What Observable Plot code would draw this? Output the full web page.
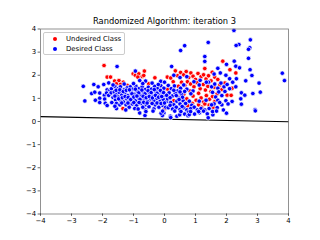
<!DOCTYPE html>
<html><head><meta charset="utf-8">
<script src="https://cdn.jsdelivr.net/npm/d3@7"></script>
<script src="https://cdn.jsdelivr.net/npm/@observablehq/plot@0.6"></script>
<style>
html,body{margin:0;padding:0;background:#fff;overflow:hidden}
#wrap{position:relative;width:320px;height:240px;font-family:"DejaVu Sans",sans-serif}
#legend{position:absolute;left:43px;top:32px;width:80px;height:21px;border:1px solid #ccc;border-radius:2px;background:rgba(255,255,255,.85);font-size:6.9px;color:#000}
#legend div{position:absolute;left:22px;white-space:nowrap;line-height:8px}
#legend i{position:absolute;left:-13.5px;top:1.7px;width:4.4px;height:4.4px;border-radius:50%}
</style></head><body>
<div id="wrap"></div>
<script>
const titleText = "Randomized Algorithm: iteration 3";
const classNames = ["Undesired Class", "Desired Class"];
const classColors = ["#ff0000", "#0000ff"];
const axisTicks = [-4,-3,-2,-1,0,1,2,3,4];
const boundaryX = [-4, 4];
const boundaryY = [0.21, -0.01];
const undesired = [[-1.95,2.42],[-1.85,1.92],[-1.74,1.92],[-1.61,1.75],[-1.47,1.77],[-1.33,1.7],[-1.55,1.63],[-1.42,1.6],[-1.2,1.56],[-1.01,2.06],[-0.94,2.0],[-0.83,2.06],[-0.72,1.95],[-0.65,2.18],[-0.67,1.99],[-0.86,1.92],[-0.31,1.89],[-0.51,1.63],[-1.34,0.56],[-1.12,0.76],[-1.33,1.0],[-0.45,0.86],[0.0,0.55],[0.09,1.92],[1.88,2.61],[2.11,2.24],[2.3,2.1],[1.3,2.29],[0.35,2.19],[1.54,2.13],[2.18,1.44],[2.02,1.14],[2.15,1.13],[0.43,1.08],[1.44,0.71],[1.57,0.62],[1.95,1.66],
[0.2,1.88],[0.28,1.72],[0.42,1.98],[0.52,2.12],[0.62,2.02],[0.7,2.16],[0.78,1.9],[0.85,2.1],[0.92,1.96],[1.0,1.82],[1.08,2.08],[1.18,1.94],[1.26,2.02],[1.34,1.84],[1.42,1.98],[1.5,1.76],[1.62,1.92],[1.72,1.82],[0.45,1.52],[0.55,1.7],[0.66,1.56],[0.74,1.72],[0.84,1.62],[0.95,1.5],[1.05,1.68],[1.15,1.42],[1.25,1.6],[1.32,1.36],[1.4,1.52],[1.5,1.3],[1.6,1.48],[1.7,1.2],[1.78,1.58],[1.85,1.38],[0.62,1.18],[0.72,0.98],[0.82,1.32],[0.92,1.1],[1.02,0.92],[1.1,1.22],[1.18,1.02],[1.26,0.84],[1.35,1.12],[1.45,0.96],[1.55,1.08],[1.62,0.86],[0.9,0.78],[1.1,0.72],[1.2,0.62],[1.3,0.76],[0.75,0.68],[-0.2,1.22],[-0.6,1.32],[-1.0,1.1],[0.1,1.4],[0.3,0.9]];
const desired = [[2.24,3.94],[2.77,3.53],[1.41,3.42],[2.4,3.33],[2.31,3.29],[0.65,3.28],[0.52,3.07],[2.75,3.19],[2.71,3.12],[1.3,2.81],[1.3,2.6],[2.71,2.73],[2.25,2.61],[2.3,2.39],[2.0,2.47],[0.23,2.38],[2.42,2.32],[2.76,2.24],[2.82,1.99],[3.8,2.09],[3.87,1.77],[2.62,1.76],[3.05,1.66],[2.32,1.85],[3.09,1.27],[2.85,1.21],[2.48,1.24],[2.59,1.14],[2.46,0.98],[2.48,0.75],[2.92,0.51],[2.18,0.87],
[-2.62,1.52],[-2.57,0.89],[-2.28,1.6],[-2.14,1.5],[-1.96,1.6],[-2.35,1.21],[-2.25,1.27],[-2.09,1.23],[-1.94,1.14],[-2.23,0.92],[-2.09,1.01],[-2.09,0.82],[-1.93,0.97],[-1.91,0.79],[-1.85,0.69],[-1.8,1.67],[-1.85,1.37],[-1.76,1.35],[-1.87,1.23],[-1.8,1.13],[-1.71,1.42],[-1.72,1.24],
[-1.53,2.38],[-0.94,2.18],[-0.8,1.77],[-0.61,1.75],[-1.55,0.56],[-0.8,0.37],[-0.61,0.5],[-0.63,0.26],[-0.34,0.55],[-0.02,0.37],[-0.07,0.26],[-1.6,1.52],[-1.5,1.42],[-1.42,1.5],[-1.3,1.38],[-1.2,1.46],[-1.1,1.5],[-1.02,1.4],[-0.92,1.52],[-0.82,1.42],[-0.72,1.5],[-0.62,1.38],[-0.52,1.48],[-0.42,1.4],[-0.32,1.52],[-0.22,1.42],[-0.12,1.55],[-0.02,1.44],
[-1.62,1.28],[-1.54,1.18],[-1.46,1.26],[-1.38,1.14],[-1.28,1.24],[-1.18,1.12],[-1.08,1.28],[-0.98,1.18],[-0.88,1.3],[-0.78,1.16],[-0.68,1.26],[-0.58,1.12],[-0.48,1.22],[-0.38,1.1],[-0.28,1.3],[-0.18,1.14],[-0.08,1.26],[0.02,1.12],
[-1.66,1.04],[-1.58,0.94],[-1.5,1.06],[-1.42,0.92],[-1.32,0.84],[-1.22,0.98],[-1.14,0.88],[-1.04,1.0],[-0.94,0.9],[-0.84,1.02],[-0.74,0.92],[-0.64,1.0],[-0.54,0.88],[-0.44,0.98],[-0.34,0.9],[-0.24,1.0],[-0.14,0.88],[-0.04,0.96],[0.06,0.86],
[-1.7,0.82],[-1.55,0.78],[-1.44,0.72],[-1.24,0.72],[-1.04,0.76],[-0.9,0.7],[-0.76,0.78],[-0.6,0.72],[-0.5,0.64],[-0.3,0.72],[-0.18,0.62],[-0.06,0.7],[0.04,0.62],[-1.14,0.62],[-0.96,0.56],[-0.7,0.62],[-1.66,1.58],[-1.3,1.62],[-1.0,1.64],[-0.7,1.64],[-0.4,1.66],[-0.12,1.74],[-0.2,1.6],[0.0,1.7],[-1.25,0.5],[-0.85,0.54],[-1.6,0.66],
[-1.56,1.35],[-1.44,1.37],[-1.33,1.3],[-1.23,1.35],[-1.13,1.37],[-1.05,1.2],[-0.94,1.4],[-0.83,1.24],[-0.73,1.36],[-0.63,1.2],[-0.53,1.33],[-0.43,1.25],[-0.33,1.38],[-0.24,1.22],[-0.13,1.34],[-0.03,1.25],
[-1.6,1.1],[-1.48,0.98],[-1.36,1.03],[-1.27,1.08],[-1.17,1.04],[-1.09,0.95],[-0.99,1.06],[-0.89,1.1],[-0.79,0.96],[-0.69,1.09],[-0.59,1.03],[-0.49,1.08],[-0.39,1.02],[-0.29,1.13],[-0.19,1.05],[-0.09,1.08],
[-1.38,0.8],[-1.18,0.8],[-0.99,0.82],[-0.82,0.82],[-0.67,0.83],[-0.56,0.8],[-0.4,0.78],[-0.24,0.8],[-0.11,0.78],[0.0,0.8],
[0.12,1.56],[0.22,1.42],[0.32,1.54],[0.42,1.32],[0.52,1.44],[0.62,1.58],[0.72,1.4],[0.92,1.32],[1.12,1.58],[1.42,1.7],[1.52,1.5],[1.62,1.62],[1.72,1.44],[1.82,1.66],[1.92,1.5],[2.02,1.6],[2.1,1.42],
[0.15,1.24],[0.25,1.1],[0.35,1.22],[0.45,1.02],[0.55,1.18],[0.65,1.3],[0.85,1.2],[1.55,1.26],[1.65,1.06],[1.75,1.28],[1.85,1.12],[1.95,1.3],
[0.1,0.98],[0.2,0.82],[0.3,0.72],[0.4,0.88],[0.5,0.76],[0.6,0.9],[0.68,0.78],[0.8,0.88],[0.88,0.7],[1.12,0.88],[1.34,0.92],[1.6,0.76],[1.72,0.92],[1.85,0.72],[1.98,0.9],[0.12,0.6],[0.26,0.54],[0.38,0.62],[0.5,0.52],[0.62,0.6],[0.72,0.5],[0.85,0.56],[0.96,0.62],[1.06,0.5],[1.18,0.56],[1.3,0.5],[1.44,0.56],[1.7,0.6],[1.9,0.5],[2.05,0.76],
[0.07,1.13],[0.18,1.03],[0.3,1.35],[0.38,1.12],[0.5,1.28],[0.58,1.05],[0.18,0.7],[0.33,0.45],[0.47,0.95],[0.57,0.65],[0.78,0.42],[1.13,0.38],[1.52,0.72],[1.78,0.82],
[-0.6,0.43],[-0.37,0.45],[-0.11,0.36],[-0.06,0.45],[0.19,0.23],[0.2,0.17],[0.4,0.23],[0.49,0.29],[0.53,0.43],[0.65,0.32],[0.76,0.25],[0.8,0.3],[0.84,0.43],[0.97,0.32],[1.1,0.43],[1.26,0.45],[1.38,0.33],[1.41,0.16],[1.56,0.29],[1.55,0.43],[1.68,0.45],[2.0,0.36],[2.93,0.46],
[0.3,2.0],[0.5,1.9],[0.72,1.94],[0.95,1.72],[1.15,1.78],[1.35,1.7],[1.6,2.05],[1.72,2.3],[1.8,2.1],[1.98,2.0],[2.1,1.85],[2.2,1.7],[2.3,1.5]];

const pts = (rows, k) => rows.map(([x, y]) => ({x, y, k}));
const plot = Plot.plot({
  width: 320, height: 240,
  marginLeft: 40, marginRight: 32, marginTop: 28.5, marginBottom: 26.5,
  style: {fontFamily: '"DejaVu Sans",sans-serif', fontSize: "6.9px", color: "#000", background: "#fff"},
  x: {domain: [-4, 4], label: null},
  y: {domain: [-4, 4], label: null},
  marks: [
    Plot.line(boundaryX.map((x, i) => ({x, y: boundaryY[i]})), {x: "x", y: "y", stroke: "#000", strokeWidth: 1.05}),
    Plot.dot(pts(undesired, 0), {x: "x", y: "y", r: 2.25, fill: classColors[0], stroke: "#fff", strokeWidth: 0.7, clip: true}),
    Plot.dot(pts(desired, 1), {x: "x", y: "y", r: 2.25, fill: classColors[1], stroke: "#fff", strokeWidth: 0.7, clip: true}),
    Plot.frame({stroke: "#777", strokeWidth: 0.8}),
    Plot.axisX(axisTicks, {tickSize: 2.4, tickPadding: 2, tickFormat: d => String(d).replace("-", "\u2212"), label: null, fontSize: 6.9, strokeWidth: 0.6}),
    Plot.axisY(axisTicks, {tickSize: 2.4, tickPadding: 2, tickFormat: d => String(d).replace("-", "\u2212"), label: null, fontSize: 6.9, strokeWidth: 0.6}),
    Plot.text([titleText], {frameAnchor: "top", dy: -8, fontSize: 8.3, fill: "#000", lineAnchor: "middle"})
  ]
});
const wrap = document.getElementById("wrap");
wrap.appendChild(plot);
const lg = document.createElement("div");
lg.id = "legend";
classNames.forEach((name, i) => {
  const row = document.createElement("div");
  row.style.top = (i === 0 ? 2 : 12) + "px";
  row.textContent = name;
  const dot = document.createElement("i");
  dot.style.background = classColors[i];
  row.appendChild(dot);
  lg.appendChild(row);
});
wrap.appendChild(lg);
</script>
</body></html>
